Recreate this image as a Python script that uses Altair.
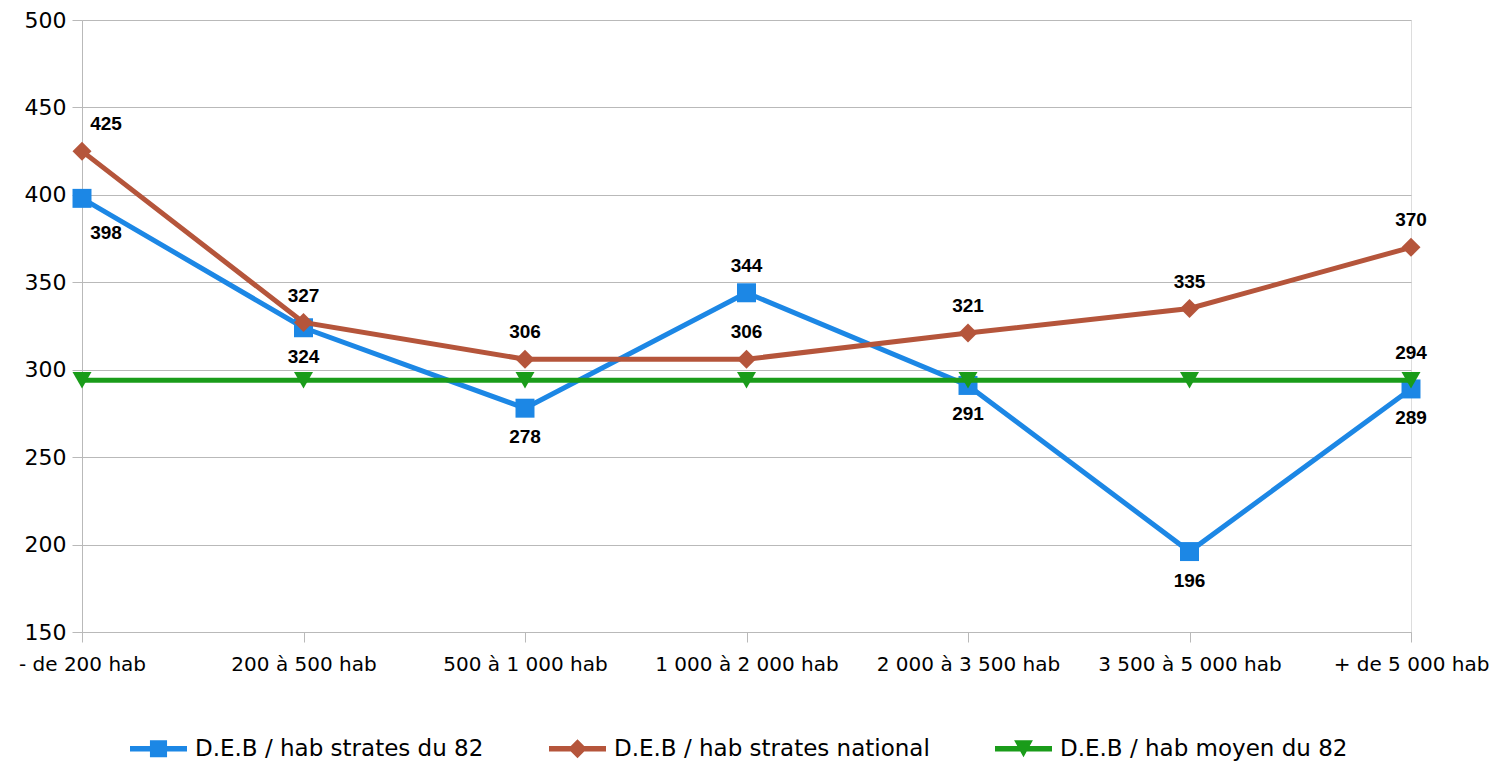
import altair as alt
import pandas as pd

categories = ["- de 200 hab", "200 à 500 hab", "500 à 1 000 hab", "1 000 à 2 000 hab",
              "2 000 à 3 500 hab", "3 500 à 5 000 hab", "+ de 5 000 hab"]
series_names = ["D.E.B / hab strates du 82", "D.E.B / hab strates national", "D.E.B / hab moyen du 82"]
deb_strates_82 = [398, 324, 278, 344, 291, 196, 289]
deb_strates_national = [425, 327, 306, 306, 321, 335, 370]
deb_moyen_82 = [294, 294, 294, 294, 294, 294, 294]
# where each value label sits relative to its point
labels_strates_82 = ["below", "below", "below", "above", "below", "below", "below"]
labels_strates_national = ["above", "above", "above", "above", "above", "above", "above"]
labels_moyen_82 = ["none", "none", "none", "none", "none", "none", "above"]

colors = ["#1c87e5", "#b5553b", "#1a9c1a"]
point_shapes = ["square", "diamond", "triangle-down"]
legend_paths = [
    "M-1,-0.1L1,-0.1L1,0.1L-1,0.1Z M-0.3,-0.3L0.3,-0.3L0.3,0.3L-0.3,0.3Z",
    "M-1,-0.1L1,-0.1L1,0.1L-1,0.1Z M0,-0.33L0.33,0L0,0.33L-0.33,0Z",
    "M-1,-0.1L1,-0.1L1,0.1L-1,0.1Z M-0.33,-0.3L0.33,-0.3L0,0.3Z",
]

rows = []
for name, vals, pos in zip(series_names,
                           [deb_strates_82, deb_strates_national, deb_moyen_82],
                           [labels_strates_82, labels_strates_national, labels_moyen_82]):
    for i, (c, v, p) in enumerate(zip(categories, vals, pos)):
        rows.append({"cat": c, "series": name, "value": v, "pos": p, "idx": i})
df = pd.DataFrame(rows)

GRAY = "#b9b9b9"
AXIS_FONT = "DejaVu Sans"

x_enc = alt.X("cat:N", sort=categories, scale=alt.Scale(type="point", padding=0),
              axis=alt.Axis(title=None, labelAngle=0, labelFont=AXIS_FONT, labelFontSize=20,
                            labelColor="black", labelPadding=12, labelLimit=400, tickSize=10,
                            tickColor=GRAY, domainColor=GRAY, grid=False))
y_enc = alt.Y("value:Q", scale=alt.Scale(domain=[150, 500], nice=False, zero=False),
              axis=alt.Axis(title=None, values=[150, 200, 250, 300, 350, 400, 450, 500],
                            labelFont=AXIS_FONT, labelFontSize=22, labelColor="black",
                            labelPadding=6, tickSize=10, tickColor=GRAY, domainColor=GRAY,
                            grid=True, gridColor=GRAY, gridWidth=1))
color_scale = alt.Scale(domain=series_names, range=colors)

base = alt.Chart(df).encode(x=x_enc, y=y_enc)

layers = []
for name, shp, col in zip(series_names, point_shapes, colors):
    sub = base.transform_filter(alt.datum.series == name)
    layers.append(sub.mark_line(strokeWidth=5, color=col))
    layers.append(sub.mark_point(shape=shp, filled=True, size=360, opacity=1, color=col))

txt = dict(font="Liberation Sans", fontWeight="bold", fontSize=19, color="black", baseline="middle")
layers.append(base.transform_filter("datum.pos == 'above' && datum.idx > 0")
              .mark_text(dy=-27, **txt).encode(text="value:Q"))
layers.append(base.transform_filter("datum.pos == 'below' && datum.idx > 0")
              .mark_text(dy=29, **txt).encode(text="value:Q"))
layers.append(base.transform_filter("datum.pos == 'above' && datum.idx == 0")
              .mark_text(dx=24, dy=-27, **txt).encode(text="value:Q"))
layers.append(base.transform_filter("datum.pos == 'below' && datum.idx == 0")
              .mark_text(dx=24, dy=35, **txt).encode(text="value:Q"))

leg = alt.Legend(title=None, orient="none", legendX=48, legendY=700, direction="horizontal",
                 columns=3, symbolSize=3249, symbolStrokeWidth=0, labelFont=AXIS_FONT,
                 labelFontSize=23, labelColor="black", labelOffset=8, columnPadding=65,
                 labelLimit=600)
layers.append(base.transform_filter("datum.value < 0").mark_point(filled=True, opacity=1).encode(
    color=alt.Color("series:N", scale=color_scale, legend=leg),
    shape=alt.Shape("series:N", scale=alt.Scale(domain=series_names, range=legend_paths), legend=leg),
))

chart = alt.layer(*layers).properties(
    width=1329, height=612,
    padding={"left": 74, "top": 12, "right": 79, "bottom": 130},
    autosize=alt.AutoSizeParams(type="none"),
).configure_view(stroke=GRAY, strokeWidth=1).configure(background="white")

chart.save("out.html", embed_options={"renderer": "svg", "actions": False})
